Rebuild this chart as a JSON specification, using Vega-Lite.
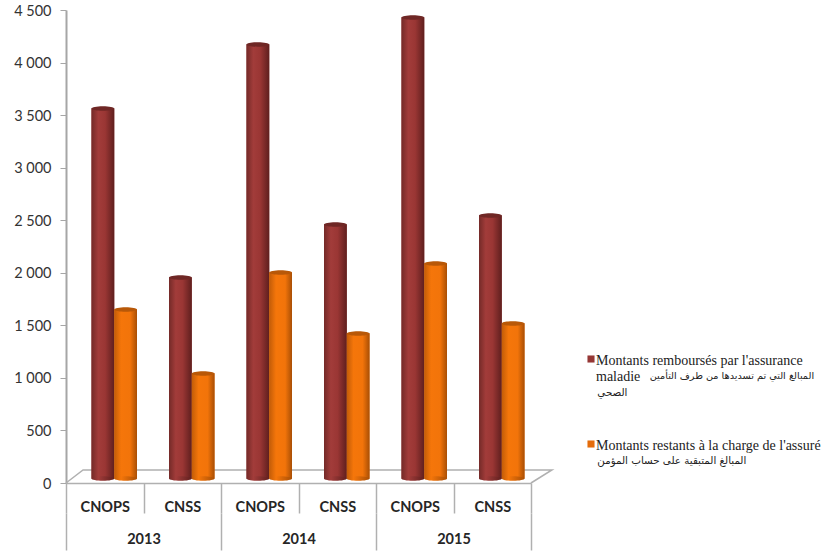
{
"$schema":"https://vega.github.io/schema/vega-lite/v6.json",
"width":465,"height":473,
"autosize":{"type":"none"},
"padding":{"left":66,"top":10,"right":293,"bottom":70},
"background":"white",
"view":{"stroke":null},
"datasets":{
"vals":[
{"annee":"2013","regime":"CNOPS","cle":"2013 CNOPS","serie":"Montants remboursés","valeur":3520},
{"annee":"2013","regime":"CNOPS","cle":"2013 CNOPS","serie":"Montants restants","valeur":1608},
{"annee":"2013","regime":"CNSS","cle":"2013 CNSS","serie":"Montants remboursés","valeur":1913},
{"annee":"2013","regime":"CNSS","cle":"2013 CNSS","serie":"Montants restants","valeur":999},
{"annee":"2014","regime":"CNOPS","cle":"2014 CNOPS","serie":"Montants remboursés","valeur":4130},
{"annee":"2014","regime":"CNOPS","cle":"2014 CNOPS","serie":"Montants restants","valeur":1960},
{"annee":"2014","regime":"CNSS","cle":"2014 CNSS","serie":"Montants remboursés","valeur":2417},
{"annee":"2014","regime":"CNSS","cle":"2014 CNSS","serie":"Montants restants","valeur":1380},
{"annee":"2015","regime":"CNOPS","cle":"2015 CNOPS","serie":"Montants remboursés","valeur":4386},
{"annee":"2015","regime":"CNOPS","cle":"2015 CNOPS","serie":"Montants restants","valeur":2046},
{"annee":"2015","regime":"CNSS","cle":"2015 CNSS","serie":"Montants remboursés","valeur":2503},
{"annee":"2015","regime":"CNSS","cle":"2015 CNSS","serie":"Montants restants","valeur":1475}
]},
"resolve":{"scale":{"x":"independent","y":"independent","color":"independent"},"axis":{"x":"independent","y":"independent"}},
"layer":[
{
"data":{"values":[{"n":1,"fx":0,"fy":0},{"n":2,"fx":0.22,"fy":124},{"n":3,"fx":6.27,"fy":124},{"n":4,"fx":6,"fy":0}]},
"mark":{"type":"line","color":"#b0b0b0","strokeWidth":1.5,"clip":false},
"encoding":{
"order":{"field":"n","type":"quantitative"},
"x":{"field":"fx","type":"quantitative","scale":{"domain":[0,6],"nice":false,"zero":false},"axis":null},
"y":{"field":"fy","type":"quantitative","scale":{"domain":[0,4500],"nice":false},
"axis":{"title":null,"values":[0,500,1000,1500,2000,2500,3000,3500,4000,4500],"labelExpr":"replace(format(datum.value,','),',',' ')","grid":false,"domainColor":"#a6a6a6","domainWidth":2,"tickColor":"#a6a6a6","tickSize":6,"tickWidth":1,"labelFont":"Lato","labelFontSize":14.5,"labelColor":"#333333","labelPadding":9,"labelOffset":1}}
}
},
{
"data":{"values":[{"annee":"2013"},{"annee":"2014"},{"annee":"2015"}]},
"mark":{"type":"bar","opacity":0},
"encoding":{
"x":{"field":"annee","type":"nominal","scale":{"domain":["2013","2014","2015"],"paddingInner":0,"paddingOuter":0},
"axis":{"title":null,"orient":"bottom","offset":30,"domain":false,"tickBand":"extent","tickSize":37,"tickColor":"#b0b0b0","tickWidth":1.5,"labelAngle":0,"labelFont":"Lato","labelFontWeight":"bold","labelFontSize":14.5,"labelColor":"#262626","labelPadding":-18}}
}
},
{
"data":{"values":[{"texte":"المبالغ التي تم تسديدها من طرف التأمين"}]},
"mark":{"type":"bar","opacity":0},
"encoding":{
"color":{"field":"texte","type":"nominal","legend":{"title":null,"orient":"none","legendX":574,"legendY":361,"symbolOpacity":0,"symbolSize":1,"labelFont":"DejaVu Sans","labelFontSize":9.7,"labelColor":"#222222","labelLimit":300,"labelOffset":0}}
}
},
{
"data":{"values":[{"texte":"الصحي","n":1},{"texte":"المبالغ المتبقية على حساب المؤمن","n":2}]},
"mark":{"type":"bar","opacity":0},
"encoding":{
"color":{"field":"texte","type":"nominal","sort":{"field":"n"},"legend":{"title":null,"orient":"none","legendX":521,"legendY":378,"symbolOpacity":0,"symbolSize":1,"labelFont":"DejaVu Sans","labelFontSize":10.3,"labelColor":"#222222","labelLimit":300,"labelOffset":0,"rowPadding":57}}
}
},
{
"data":{"name":"vals"},
"encoding":{
"x":{"field":"cle","type":"nominal","scale":{"domain":["2013 CNOPS","2013 CNSS","2014 CNOPS","2014 CNSS","2015 CNOPS","2015 CNSS"],"paddingInner":0,"paddingOuter":0},
"axis":{"title":null,"orient":"bottom","tickBand":"extent","tickSize":30,"domainColor":"#b0b0b0","domainWidth":1.5,"tickColor":"#b0b0b0","tickWidth":1.5,"labelAngle":0,"labelExpr":"split(datum.label,' ')[1]","labelFont":"Lato","labelFontWeight":"bold","labelFontSize":14.5,"labelColor":"#262626","labelPadding":-13}},
"xOffset":{"field":"serie","type":"nominal","scale":{"type":"band","domain":["Montants remboursés","Montants restants"],"range":[25.5,71],"paddingInner":0,"paddingOuter":0}}
},
"layer":[
{
"mark":{"type":"bar"},
"encoding":{
"y":{"field":"valeur","type":"quantitative","scale":{"domain":[-42,4458],"nice":false,"zero":false},"axis":null},
"y2":{"datum":0},
"color":{"field":"serie","type":"nominal","scale":{"domain":["Montants remboursés","Montants restants"],"range":["#953735","#E46C0A"]},
"legend":{"title":null,"orient":"none","legendX":518,"legendY":342,"symbolType":"square","symbolSize":50,"labelFont":"Liberation Serif","labelFontSize":14,"labelColor":"#222222","labelLimit":300,"labelBaseline":"top","labelOffset":-2,"rowPadding":53,
"encode":{"labels":{"update":{"dy":{"value":-5}}}},
"labelExpr":"datum.label=='Montants remboursés' ? [\"Montants remboursés par l'assurance\",'maladie'] : \"Montants restants à la charge de l'assuré\""}}
}
},
{
"mark":{"type":"bar"},
"encoding":{
"y":{"field":"valeur","type":"quantitative"},
"y2":{"datum":0},
"fill":{"condition":{"test":"datum.serie=='Montants remboursés'","value":{"gradient":"linear","x1":0,"y1":0,"x2":1,"y2":0,"stops":[{"offset":0,"color":"#742a28"},{"offset":0.3,"color":"#a23c3a"},{"offset":0.6,"color":"#9a3634"},{"offset":1,"color":"#5f1f1e"}]}},"value":{"gradient":"linear","x1":0,"y1":0,"x2":1,"y2":0,"stops":[{"offset":0,"color":"#c25c08"},{"offset":0.3,"color":"#f5760a"},{"offset":0.7,"color":"#f2740a"},{"offset":1,"color":"#a94f05"}]}}
}
},
{
"mark":{"type":"point","filled":true,"opacity":1,"size":518,"shape":"M-1,0A1,0.2,0,1,1,1,0A1,0.2,0,1,1,-1,0Z"},
"encoding":{
"y":{"datum":0},
"fill":{"condition":{"test":"datum.serie=='Montants remboursés'","value":{"gradient":"linear","x1":0,"y1":0,"x2":1,"y2":0,"stops":[{"offset":0,"color":"#742a28"},{"offset":0.3,"color":"#a23c3a"},{"offset":1,"color":"#5f1f1e"}]}},"value":{"gradient":"linear","x1":0,"y1":0,"x2":1,"y2":0,"stops":[{"offset":0,"color":"#c25c08"},{"offset":0.3,"color":"#f5760a"},{"offset":1,"color":"#a94f05"}]}}
}
},
{
"mark":{"type":"point","filled":true,"opacity":1,"size":518,"shape":"M-1,0A1,0.2,0,1,1,1,0A1,0.2,0,1,1,-1,0Z"},
"encoding":{
"y":{"field":"valeur","type":"quantitative"},
"fill":{"condition":{"test":"datum.serie=='Montants remboursés'","value":"#6f2725"},"value":"#b85808"}
}
}
]
}
]
}
